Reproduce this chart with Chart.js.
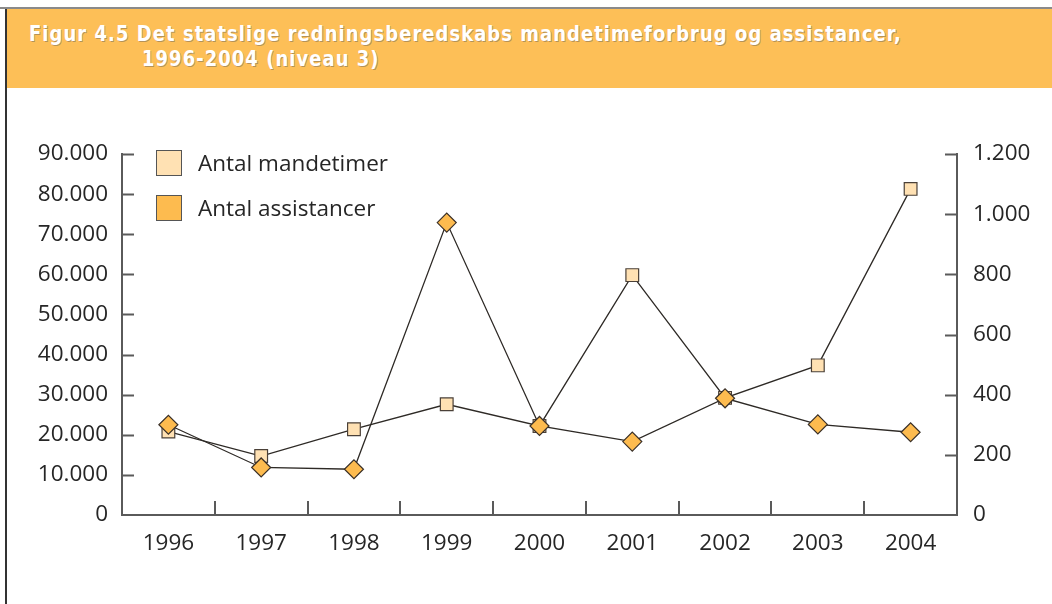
<!DOCTYPE html>
<html lang="da">
<head>
<meta charset="UTF-8">
<title>Figur 4.5</title>
<script src="https://cdn.jsdelivr.net/npm/chart.js"></script>
<style>
    html, body { margin: 0; padding: 0; background: #fff; }
    body { width: 1052px; height: 604px; position: relative; overflow: hidden; font-family: "Open Sans", sans-serif; }
    .topline { position: absolute; left: 0; top: 7px; width: 1052px; height: 2px; background: #8a8a8a; }
    .header { position: absolute; left: 6px; top: 9px; width: 1046px; height: 79px; background: #fdbf57; }
    .header .t { position: absolute; color: #fff; font-family: "DejaVu Sans", sans-serif; transform-origin: 0 0;
        font-weight: bold; font-size: 22px; letter-spacing: 1.3px; white-space: nowrap;
        text-shadow: 1px 1px 0 rgba(90, 90, 90, 0.45); line-height: 1; }
    .leftline { position: absolute; left: 5px; top: 9px; width: 2px; height: 595px; background: #333; }
    .wrap { position: absolute; left: 0; top: 0; width: 1052px; height: 604px; }
    .legend { position: absolute; left: 156px; top: 150px; font-size: 22.5px; color: #262626; }
    .legend div { position: relative; height: 45px; }
    .legend span.box { position: absolute; left: 0; top: 0; width: 24px; height: 24px; border: 1px solid #555; }
    .legend span.lbl { position: absolute; left: 42px; top: -3px; white-space: nowrap; }
</style>
</head>
<body>
<div class="wrap"><canvas id="grafico"></canvas></div>
<div class="topline"></div>
<div class="header">
    <div class="t" id="titel1" style="left:23px; top:14px;">Figur 4.5 Det statslige redningsberedskabs mandetimeforbrug og assistancer,</div>
    <div class="t" id="titel2" style="left:136px; top:39px;">1996-2004 (niveau 3)</div>
</div>
<div class="leftline"></div>
<div class="legend" id="legende"></div>

<script>
    // data
    const aar = ["1996", "1997", "1998", "1999", "2000", "2001", "2002", "2003", "2004"];
    const mandetimer = [20800, 14700, 21400, 27600, 22200, 59800, 29200, 37300, 81300];
    const assistancer = [300, 158, 152, 972, 296, 244, 388, 301, 275];
    const serieNavne = ["Antal mandetimer", "Antal assistancer"];
    const serieFarver = ["#ffe1b3", "#fdbb4f"];

    const venstreMax = 90000, venstreSkridt = 10000;
    const hoejreMax = 1200, hoejreSkridt = 200;

    function tusind(v) {
        return String(v).replace(/\B(?=(\d{3})+(?!\d))/g, ".");
    }

    // titel: smal skrift med luft mellem bogstaverne, skaleret til originalens bredde
    const t1 = document.getElementById("titel1");
    const t2 = document.getElementById("titel2");
    const maalBredde = 873;
    const sx = maalBredde / t1.getBoundingClientRect().width;
    t1.style.transform = "scaleX(" + sx + ")";
    t2.style.transform = "scaleX(" + sx + ")";

    // legende
    const legende = document.getElementById("legende");
    serieNavne.forEach(function (navn, i) {
        const d = document.createElement("div");
        d.innerHTML = '<span class="box" style="background:' + serieFarver[i] + '"></span><span class="lbl">' + navn + '</span>';
        legende.appendChild(d);
    });

    const akseFarve = "#5a5a5a";

    // små tick-streger inde i plotområdet
    const tickStreger = {
        id: "tickStreger",
        afterDraw(chart) {
            const ctx = chart.ctx;
            const x = chart.scales.x, yL = chart.scales.yL, yR = chart.scales.yR;
            ctx.save();
            ctx.strokeStyle = akseFarve;
            ctx.lineWidth = 2;
            ctx.beginPath();
            yL.ticks.forEach(function (t, i) {
                if (i === 0) return;
                const py = Math.round(yL.getPixelForTick(i)) + 0.5;
                ctx.moveTo(yL.right, py); ctx.lineTo(yL.right + 12, py);
            });
            yR.ticks.forEach(function (t, i) {
                if (i === 0) return;
                const py = Math.round(yR.getPixelForTick(i)) + 0.5;
                ctx.moveTo(yR.left, py); ctx.lineTo(yR.left - 12, py);
            });
            for (let i = 1; i < x.ticks.length; i++) {
                const px = Math.round((x.getPixelForTick(i - 1) + x.getPixelForTick(i)) / 2);
                ctx.moveTo(px, x.top); ctx.lineTo(px, x.top - 14);
            }
            ctx.stroke();
            ctx.restore();
        }
    };

    const tekstFont = { family: "'Open Sans', sans-serif", size: 22.5 };

    new Chart(document.getElementById("grafico"), {
        type: "line",
        data: {
            labels: aar,
            datasets: [
                {
                    label: serieNavne[0],
                    data: mandetimer,
                    yAxisID: "yL",
                    order: 1,
                    borderColor: "#2e2a26",
                    borderWidth: 1.3,
                    pointStyle: "rect",
                    pointRadius: 9,
                    pointBackgroundColor: serieFarver[0],
                    pointBorderColor: "#4a4038",
                    pointBorderWidth: 1.2,
                    tension: 0
                },
                {
                    label: serieNavne[1],
                    data: assistancer,
                    yAxisID: "yR",
                    order: 0,
                    borderColor: "#2e2a26",
                    borderWidth: 1.3,
                    pointStyle: "rectRot",
                    pointRadius: 9.5,
                    pointBackgroundColor: serieFarver[1],
                    pointBorderColor: "#3a3028",
                    pointBorderWidth: 1.2,
                    tension: 0
                }
            ]
        },
        options: {
            responsive: true,
            maintainAspectRatio: false,
            animation: false,
            layout: { padding: { top: 154, left: 0, right: 0, bottom: 0 } },
            plugins: {
                legend: { display: false },
                tooltip: { enabled: false }
            },
            scales: {
                x: {
                    offset: true,
                    grid: { display: false, drawTicks: false },
                    border: { display: true, color: akseFarve, width: 2 },
                    ticks: { color: "#262626", font: tekstFont, padding: 15, maxRotation: 0 },
                    afterFit(scale) { scale.height = 89; }
                },
                yL: {
                    position: "left",
                    min: 0, max: venstreMax,
                    grid: { display: false, drawTicks: false },
                    border: { display: true, color: akseFarve, width: 2 },
                    ticks: { stepSize: venstreSkridt, color: "#262626", font: tekstFont, padding: 14, callback: function (v) { return tusind(v); } },
                    afterFit(scale) { scale.width = 122; }
                },
                yR: {
                    position: "right",
                    min: 0, max: hoejreMax,
                    grid: { display: false, drawTicks: false },
                    border: { display: true, color: akseFarve, width: 2 },
                    ticks: { stepSize: hoejreSkridt, color: "#262626", font: tekstFont, padding: 16, callback: function (v) { return tusind(v); } },
                    afterFit(scale) { scale.width = 95; }
                }
            }
        },
        plugins: [tickStreger]
    });
</script>
</body>
</html>
